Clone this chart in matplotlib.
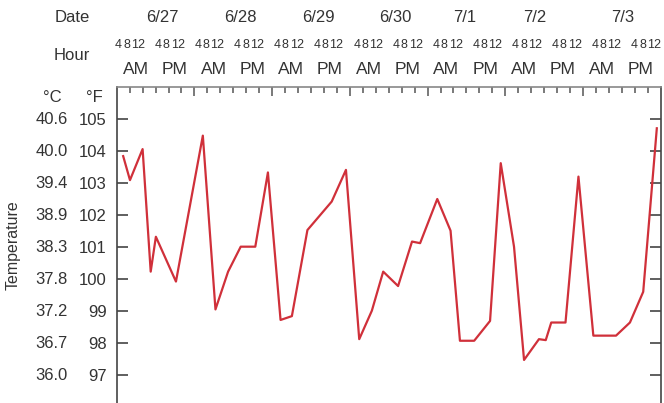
import matplotlib
matplotlib.use("Agg")
import matplotlib.pyplot as plt
import matplotlib.transforms as mtransforms

plt.rcParams['font.family'] = ['Liberation Sans', 'DejaVu Sans']

# hours since 6/27 00:00 and temperature in Fahrenheit
hours = [2.0, 4.1, 8.0, 10.5, 12.1, 18.3, 26.6, 30.5, 34.4, 38.3, 42.8, 46.7,
         50.6, 54.1, 58.9, 66.4, 70.8, 74.9, 78.8, 82.3, 86.9, 91.2, 93.7,
         99.0, 103.1, 106.0, 110.4, 115.3, 118.6, 122.7, 125.8, 130.4, 132.5,
         134.2, 138.6, 142.6, 147.2, 154.2, 158.5, 162.6, 166.8]
temp_f = [103.84, 103.09, 104.06, 100.23, 101.32, 99.92, 104.48, 99.05, 100.23,
          101.01, 101.01, 103.33, 98.72, 98.84, 101.53, 102.42, 103.41, 98.12,
          99.01, 100.23, 99.78, 101.17, 101.12, 102.5, 101.51, 98.07, 98.07,
          98.69, 103.62, 101.01, 97.47, 98.12, 98.09, 98.64, 98.64, 103.2,
          98.23, 98.23, 98.64, 99.6, 104.71]

dates = ['6/27', '6/28', '6/29', '6/30', '7/1', '7/2', '7/3']
hour_labels = ['4', '8', '12']
f_ticks = [97, 98, 99, 100, 101, 102, 103, 104, 105]
c_labels = ['36.0', '36.7', '37.2', '37.8', '38.3', '38.9', '39.4', '40.0', '40.6']

W, H = 664, 403
fig = plt.figure(figsize=(W / 100, H / 100), dpi=100)
ax = fig.add_axes([116.7 / W, (H - 407) / H, 544 / W, 320 / H])

ax.plot(hours, temp_f, color='#d0303a', linewidth=1.6)
ax.set_xlim(0, 168)
ax.set_ylim(96, 106)

edge = '#444444'
for s in ax.spines.values():
    s.set_color(edge)
    s.set_linewidth(1.2)
ax.spines['top'].set_color('#888888')

# x ticks on top, every 4 hours, longer at day boundaries
ax.xaxis.tick_top()
ax.set_xticks([h for h in range(4, 168, 4) if h % 24 != 0])
ax.set_xticks(range(24, 168, 24), minor=True)
ax.tick_params(axis='x', which='major', direction='in', length=4.5, width=1.1,
               color='#555555', labeltop=False)
ax.tick_params(axis='x', which='minor', direction='in', length=6.5, width=1.1,
               color='#555555', labeltop=False)

ax.set_yticks(f_ticks)
ax.set_yticklabels([str(v) for v in f_ticks])
ax.tick_params(axis='y', direction='in', length=8, width=1.2, color=edge,
               right=True, pad=7, labelsize=12, labelcolor='#333333')

trans = mtransforms.blended_transform_factory(ax.transAxes, ax.transData)
for f, c in zip(f_ticks, c_labels):
    ax.text(-0.0895, f, c, transform=trans, ha='right', va='center',
            fontsize=12, color='#333333')

ax.set_ylabel('Temperature', fontsize=11.5, color='#333333')
ax.yaxis.set_label_coords(-0.176, 0.505)


def fx(x):
    return x / W


def fy(y):
    return 1 - y / H


txt = dict(ha='center', va='center', color='#333333')
fig.text(fx(72), fy(17), 'Date', fontsize=12, **txt)
fig.text(fx(72), fy(55), 'Hour', fontsize=12, **txt)
fig.text(fx(52), fy(97), '°C', fontsize=12, **txt)
fig.text(fx(94), fy(97), '°F', fontsize=12, **txt)

date_x = [162, 240, 318, 395, 465, 535, 623]
for d, x in zip(dates, date_x):
    fig.text(fx(x), fy(17), d, fontsize=12, **txt)

offsets = [0, 8, 19.5]
for k in range(14):
    x0 = 118.5 + 39.7 * k
    for lab, off in zip(hour_labels, offsets):
        fig.text(fx(x0 + off), fy(45), lab, fontsize=9, **txt)
    ampm = 'AM' if k % 2 == 0 else 'PM'
    fig.text(fx(136 + 38.8 * k), fy(70), ampm, fontsize=12.5, **txt)

fig.savefig('out.png', dpi=100)
